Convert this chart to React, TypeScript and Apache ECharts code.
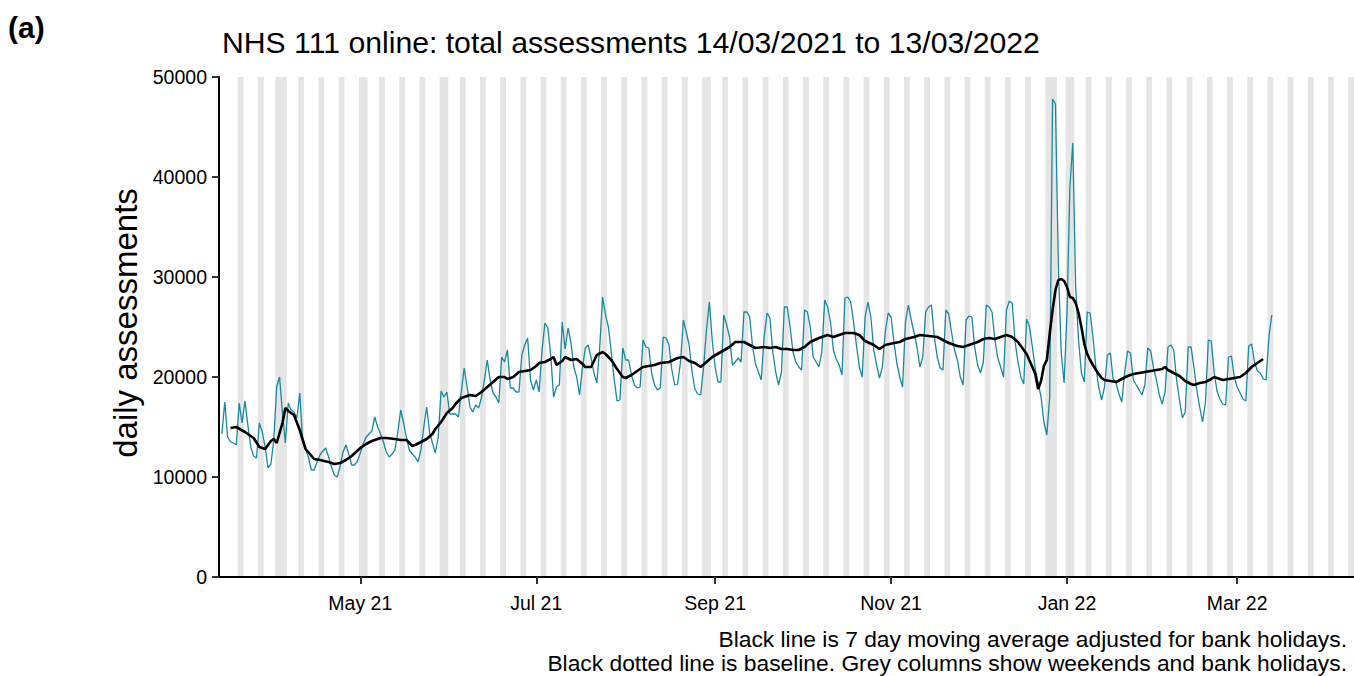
import React, { useEffect, useRef } from "react";
import * as echarts from "echarts";

// ---------- DATA ----------
const startDate = "2021-03-14"; // first day of daily series (one value per day)

// Daily NHS 111 online total assessments, 14/03/2021 .. 13/03/2022 (Sun..Sat per row)
const dailyAssessments: number[] = [
  14300, 17500, 14000, 13500, 13400, 13200, 17400, // Mar 14
  15400, 17600, 15200, 13000, 12100, 11900, 15400, // Mar 21
  14500, 13000, 10900, 11300, 13700, 19000, 20000, // Mar 28
  16400, 13400, 17400, 16700, 16500, 15900, 18400, // Apr 4
  13600, 12800, 12000, 10700, 10700, 11500, 12200, // Apr 11
  12600, 12900, 12000, 11000, 10200, 10000, 11100, // Apr 18
  12500, 13200, 12300, 11200, 11200, 11600, 12400, // Apr 25
  13300, 14000, 14300, 14600, 16000, 15000, 14300, // May 2
  13500, 12500, 12000, 12300, 12700, 14500, 16700, // May 9
  15400, 13900, 12700, 12300, 12000, 11500, 12700, // May 16
  15000, 17000, 14500, 13400, 12400, 14000, 18600, // May 23
  18000, 18500, 16300, 16300, 16300, 16000, 18500, // May 30
  20900, 19000, 17000, 16500, 17200, 16900, 17900, // Jun 6
  19700, 21700, 19700, 18400, 18000, 17400, 22000, // Jun 13
  21500, 22700, 18900, 18900, 18500, 18500, 22200, // Jun 20
  23200, 23900, 19700, 18700, 19700, 18500, 22700, // Jun 27
  25400, 24900, 22200, 18000, 19000, 19200, 25500, // Jul 4
  22800, 24900, 23500, 21000, 20000, 18200, 20900, // Jul 11
  22900, 23200, 21900, 20400, 19400, 23000, 28000, // Jul 18
  26200, 25000, 22500, 19800, 17600, 17700, 22900, // Jul 25
  21700, 21700, 20200, 19200, 18900, 19000, 23700, // Aug 1
  23000, 22900, 20400, 19200, 18700, 18900, 24000, // Aug 8
  23900, 23200, 20700, 19200, 19300, 21500, 25700, // Aug 15
  24500, 23200, 20500, 18800, 18300, 18200, 21000, // Aug 22
  24700, 27500, 23700, 21000, 19500, 19500, 26200, // Aug 29
  25200, 24000, 21200, 21500, 21900, 21500, 26500, // Sep 5
  26500, 26000, 23000, 21300, 20500, 19700, 24000, // Sep 12
  26400, 25900, 22500, 20500, 19200, 20500, 27000, // Sep 19
  27000, 25000, 22500, 21500, 21000, 20700, 26700, // Sep 26
  26500, 25000, 22000, 21500, 21000, 22500, 27700, // Oct 3
  27000, 25500, 22700, 21800, 21200, 20200, 27900, // Oct 10
  28000, 27500, 25500, 23200, 21000, 20000, 26000, // Oct 17
  27500, 26000, 22700, 21200, 19900, 21000, 24500, // Oct 24
  26400, 26000, 23500, 21400, 20000, 19000, 25500, // Oct 31
  27200, 25700, 24400, 23000, 21000, 22000, 26500, // Nov 7
  27000, 27200, 24000, 22000, 20900, 20700, 26700, // Nov 14
  26300, 24400, 22700, 21700, 20000, 19200, 25700, // Nov 21
  26100, 26000, 23000, 21200, 20400, 21500, 27200, // Nov 28
  27000, 26500, 23700, 21900, 21000, 20000, 26700, // Dec 5
  27600, 27400, 23500, 21500, 20000, 19300, 25800, // Dec 12
  25000, 23000, 20800, 19400, 18000, 15500, 14200, // Dec 19
  18000, 47800, 47300, 31000, 22400, 19400, 26400, // Dec 26
  39000, 43400, 29000, 23700, 20400, 19500, 26500, // Jan 2
  26400, 24000, 21000, 19000, 17700, 19000, 22200, // Jan 9
  22400, 19800, 19400, 18300, 17500, 20500, 22600, // Jan 16
  22400, 19700, 19200, 18700, 18200, 19200, 22900, // Jan 23
  22600, 20900, 19700, 18200, 17300, 18500, 23000, // Jan 30
  23200, 22700, 19700, 17700, 15900, 16500, 23000, // Feb 6
  23000, 21000, 18700, 17000, 15500, 17500, 23700, // Feb 13
  23600, 20500, 18600, 17800, 17300, 17200, 22000, // Feb 20
  22100, 20000, 19000, 18400, 17800, 17600, 23100, // Feb 27
  23300, 21500, 20600, 20400, 19800, 19700, 24000, // Mar 6
  26200, // Mar 13
];

// 7 day moving average (adjusted for bank holidays): day offset from startDate, value
const maDays: number[] = [
  3, 5, 8, 11, 13, 15, 17, 18, 19, 21, 22, 23, 25, 27, 29, 32, 34, 37, 39, 41,
  43, 45, 48, 50, 52, 55, 57, 60, 62, 64, 66, 67, 69, 71, 73, 74, 76, 78, 80, 81,
  83, 84, 86, 88, 90, 92, 94, 96, 98, 99, 101, 103, 105, 107, 109, 110, 112, 114, 115, 116,
  118, 119, 121, 123, 125, 126, 128, 130, 132, 133, 135, 137, 139, 140, 142, 144, 146, 148, 150, 152,
  155, 158, 160, 162, 164, 166, 168, 170, 173, 176, 178, 181, 183, 185, 188, 190, 192, 194, 196, 198,
  200, 202, 204, 207, 208, 210, 212, 214, 216, 219, 221, 223, 226, 228, 230, 233, 235, 237, 240, 242,
  245, 248, 250, 252, 255, 257, 259, 262, 264, 266, 268, 270, 272, 274, 276, 277, 279, 281, 282, 283,
  284, 285, 286, 287, 288, 289, 290, 291, 292, 293, 294, 295, 296, 297, 298, 299, 300, 301, 302, 303,
  304, 305, 306, 308, 310, 312, 314, 316, 318, 320, 322, 324, 326, 327, 328, 330, 332, 334, 336, 337,
  339, 341, 343, 344, 346, 347, 349, 351, 353, 355, 357, 359, 361,
];
const maValues: number[] = [
  14900, 15000, 14500, 13900, 13000, 12800, 13600, 13800, 13400, 15400, 16900, 16600, 16200, 14700, 12800, 11800, 11700, 11500, 11300, 11400,
  11700, 12100, 12900, 13300, 13600, 13900, 13900, 13800, 13700, 13700, 13100, 13200, 13500, 13800, 14300, 14800, 15500, 16400, 16900, 17300,
  17900, 18000, 18200, 18100, 18500, 19000, 19500, 20000, 20000, 19800, 20000, 20500, 20600, 20700, 21100, 21400, 21500, 21800, 22000, 21200,
  21600, 22000, 21700, 21800, 21300, 21000, 21000, 22200, 22500, 22300, 21700, 20800, 20000, 19900, 20200, 20600, 21000, 21100, 21200, 21400,
  21500, 21900, 22000, 21600, 21400, 21000, 21500, 22000, 22500, 23000, 23500, 23500, 23200, 22900, 23000, 22900, 23000, 22800, 22800, 22700,
  22700, 23000, 23500, 23900, 24000, 24200, 24000, 24200, 24400, 24400, 24200, 23600, 23200, 22800, 23200, 23400, 23500, 23800, 24000, 24200,
  24100, 24000, 23700, 23400, 23100, 23000, 23200, 23500, 23800, 23900, 23800, 24000, 24200, 24000, 23500, 23100, 22300, 21000, 20300, 18800,
  19600, 21100, 21700, 24300, 26700, 28700, 29700, 29800, 29600, 29000, 28000, 27900, 27400, 26400, 25000, 23300, 22300, 21700, 21200, 20700,
  20300, 19900, 19700, 19600, 19500, 19800, 20100, 20300, 20400, 20500, 20600, 20700, 20800, 21000, 20700, 20400, 20100, 19600, 19300, 19200,
  19400, 19500, 19800, 20000, 19800, 19700, 19800, 19900, 20000, 20400, 21000, 21400, 21800,
];

const bankHolidays = ["2021-04-02", "2021-04-05", "2021-05-03", "2021-05-31", "2021-08-30", "2021-12-27", "2021-12-28", "2022-01-03"];
const shadingFrom = "2021-03-20";
const shadingTo = "2022-04-10";

const tickDates = ["2021-05-01", "2021-07-01", "2021-09-01", "2021-11-01", "2022-01-01", "2022-03-01"];
const tickLabels = ["May 21", "Jul 21", "Sep 21", "Nov 21", "Jan 22", "Mar 22"];

const titleText = "NHS 111 online: total assessments 14/03/2021 to 13/03/2022";
const yTitle = "daily assessments";
const captionLines = [
  "Black line is 7 day moving average adjusted for bank holidays.",
  "Black dotted line is baseline. Grey columns show weekends and bank holidays.",
];

// ---------- helpers ----------
const DAY = 86400000;
const toTs = (s: string) => {
  const [y, m, d] = s.split("-").map(Number);
  return Date.UTC(y, m - 1, d);
};
const START = toTs(startDate);
const dayTs = (d: number) => START + d * DAY;

const FONT = '"Liberation Sans", Arial, Helvetica, sans-serif';
const TEAL = "#16899e";

function shadedRanges(): [number, number][] {
  const holidaySet = new Set(bankHolidays.map(toTs));
  const from = toTs(shadingFrom);
  const to = toTs(shadingTo);
  const ranges: [number, number][] = [];
  let cur: [number, number] | null = null;
  for (let t = from; t <= to; t += DAY) {
    const wd = new Date(t).getUTCDay();
    const shaded = wd === 0 || wd === 6 || holidaySet.has(t);
    if (shaded) {
      if (cur && cur[1] === t - DAY / 2) cur[1] = t + DAY / 2;
      else {
        cur = [t - DAY / 2, t + DAY / 2];
        ranges.push(cur);
      }
    }
  }
  return ranges;
}

export default function App() {
  const ref = useRef<HTMLDivElement>(null);
  useEffect(() => {
    if (!ref.current) return;
    const chart = echarts.init(ref.current, undefined, { renderer: "svg" });
    const tickTs = tickDates.map(toTs);
    const xMin = dayTs(-1);
    const xMax = dayTs(392.5);
    const ranges = shadedRanges();

    const axisLineStyle = { color: "#000", width: 2 };
    chart.setOption({
      animation: false,
      textStyle: { fontFamily: FONT },
      grid: { left: 219, right: 0, top: 77, bottom: 99, containLabel: false },
      xAxis: {
        type: "value",
        z: 10,
        min: xMin,
        max: xMax,
        axisLine: { show: true, onZero: false, lineStyle: axisLineStyle },
        axisTick: { show: true, length: 7, lineStyle: { color: "#333", width: 2 }, customValues: tickTs },
        axisLabel: {
          customValues: tickTs,
          formatter: (v: number) => {
            const i = tickTs.indexOf(v);
            return i >= 0 ? tickLabels[i] : "";
          },
          fontSize: 19.5,
          color: "#000",
          margin: 16,
          fontFamily: FONT,
        },
        splitLine: { show: false },
      },
      yAxis: {
        type: "value",
        z: 10,
        min: 0,
        max: 50000,
        interval: 10000,
        axisLine: { show: true, lineStyle: axisLineStyle },
        axisTick: { show: true, length: 7, lineStyle: { color: "#333", width: 2 } },
        axisLabel: {
          formatter: (v: number) => String(v),
          fontSize: 19.5,
          color: "#000",
          margin: 12,
          fontFamily: FONT,
        },
        splitLine: { show: false },
      },
      series: [
        {
          type: "line",
          name: "shading",
          z: 1,
          silent: true,
          showSymbol: false,
          lineStyle: { opacity: 0 },
          data: [[xMin, 0]],
          markArea: {
            silent: true,
            itemStyle: { color: "#e5e5e5", borderWidth: 0 },
            data: ranges.map((r) => [{ xAxis: r[0] }, { xAxis: r[1] }]),
          },
        },
        {
          type: "line",
          name: "daily",
          z: 3,
          showSymbol: false,
          silent: true,
          lineStyle: { color: TEAL, width: 1.3 },
          data: dailyAssessments.map((v, i) => [dayTs(i), v]),
        },
        {
          type: "line",
          name: "ma",
          z: 4,
          showSymbol: false,
          silent: true,
          lineStyle: { color: "#000", width: 2.6 },
          data: maDays.map((d, i) => [dayTs(d), maValues[i]]),
        },
      ],
      graphic: [
        {
          type: "text",
          x: 8,
          y: 27,
          style: { text: "(a)", font: `bold 30px ${FONT}`, fill: "#000", align: "left", verticalAlign: "middle" },
        },
        {
          type: "text",
          x: 222,
          y: 42,
          style: { text: titleText, font: `30.2px ${FONT}`, fill: "#000", align: "left", verticalAlign: "middle" },
        },
        {
          type: "text",
          x: 125,
          y: 323,
          rotation: Math.PI / 2,
          style: { text: yTitle, font: `33px ${FONT}`, fill: "#000", align: "center", verticalAlign: "middle" },
        },
        {
          type: "text",
          x: 1347,
          y: 639,
          style: { text: captionLines[0], font: `22.8px ${FONT}`, fill: "#000", align: "right", verticalAlign: "middle" },
        },
        {
          type: "text",
          x: 1347,
          y: 663,
          style: { text: captionLines[1], font: `22.8px ${FONT}`, fill: "#000", align: "right", verticalAlign: "middle" },
        },
      ],
    });
    return () => chart.dispose();
  }, []);

  return (
    <div
      ref={ref}
      style={{ position: "absolute", left: 0, top: 0, width: 1354, height: 676, background: "#fff" }}
    />
  );
}
